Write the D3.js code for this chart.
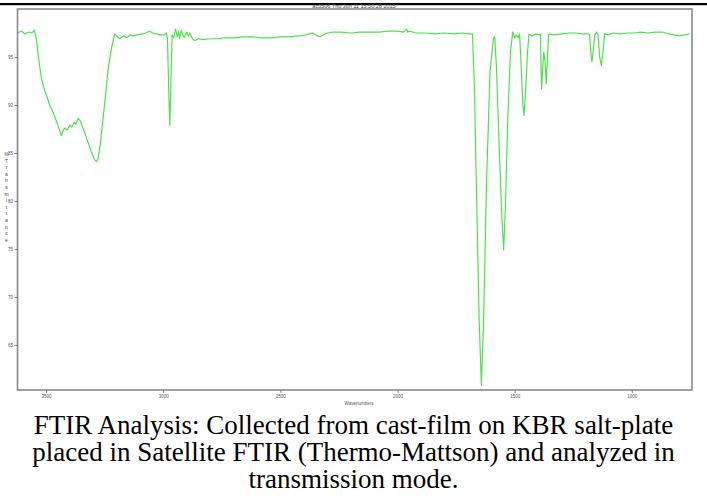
<!DOCTYPE html>
<html>
<head>
<meta charset="utf-8">
<script src="https://cdn.jsdelivr.net/npm/d3@7"></script>
<style>
    body { margin: 0; background: #fff; }
    svg { display: block; }
</style>
</head>
<body>
<div id="chart"></div>
<script>
// spectrum: wavenumber (cm-1) and % transmittance
var wavenumbers = [3622, 3605, 3590, 3575, 3560, 3550, 3541, 3530, 3520, 3506, 3495, 3485, 3475, 3463, 3450, 3435,
    3428, 3421, 3410, 3399, 3390, 3380, 3372, 3364, 3355, 3344, 3332, 3321, 3308, 3293, 3285, 3278, 3268, 3258,
    3246, 3236, 3222, 3207, 3196, 3186, 3170, 3155, 3140, 3130, 3110, 3090, 3075, 3058, 3045, 3030, 3010, 2994,
    2987, 2982, 2976, 2972, 2968, 2962, 2955, 2947, 2940, 2935, 2930, 2923, 2917, 2910, 2900, 2893, 2887, 2875,
    2866, 2850, 2830, 2800, 2770, 2740, 2700, 2660, 2620, 2580, 2540, 2500, 2460, 2420, 2390, 2362, 2350, 2333,
    2310, 2277, 2240, 2200, 2162, 2120, 2080, 2040, 2000, 1975, 1960, 1957, 1950, 1920, 1880, 1840, 1800, 1760,
    1720, 1690, 1680, 1672, 1662, 1652, 1642, 1632, 1620, 1605, 1590, 1585, 1578, 1565, 1555, 1547, 1540, 1530,
    1518, 1508, 1500, 1493, 1485, 1479, 1472, 1465, 1460, 1452, 1445, 1439, 1425, 1410, 1395, 1390, 1385, 1376,
    1370, 1365, 1358, 1355, 1330, 1300, 1270, 1240, 1210, 1185, 1180, 1175, 1170, 1164, 1158, 1151, 1144, 1137,
    1130, 1123, 1116, 1100, 1080, 1050, 1020, 990, 960, 930, 900, 868, 840, 820, 796, 775, 753];
var transmittance = [97.5, 97.7, 97.4, 97.6, 97.5, 97.8, 96.8, 94.5, 92.8, 91.5, 90.8, 90.0, 89.5, 88.8, 87.9, 86.8,
    87.3, 87.6, 87.4, 87.9, 87.7, 88.2, 88.0, 88.6, 88.4, 87.7, 86.9, 86.1, 85.2, 84.3, 84.1, 84.4, 86.0, 88.4,
    91.0, 93.6, 95.8, 97.4, 97.1, 96.9, 97.2, 97.0, 97.3, 97.2, 97.3, 97.4, 97.5, 97.7, 97.5, 97.4, 97.3, 97.3,
    97.5, 97.0, 91.0, 87.9, 91.5, 97.3, 97.0, 97.9, 97.1, 97.7, 96.9, 97.8, 97.3, 97.0, 97.6, 97.2, 97.5, 96.9,
    96.7, 96.9, 96.8, 96.9, 96.9, 97.0, 97.0, 97.1, 97.1, 97.0, 97.0, 97.1, 97.1, 97.2, 97.3, 97.5, 97.3, 97.1,
    97.4, 97.6, 97.6, 97.5, 97.6, 97.6, 97.6, 97.7, 97.7, 97.6, 97.9, 97.6, 97.7, 97.5, 97.5, 97.4, 97.5, 97.4,
    97.5, 97.4, 97.4, 92.0, 80.0, 68.0, 60.8, 68.0, 82.0, 93.5, 97.0, 97.1, 94.0, 85.0, 78.5, 74.9, 79.0, 88.0,
    95.5, 97.6, 97.0, 97.3, 97.0, 97.4, 94.0, 90.0, 88.9, 92.0, 95.5, 97.4, 97.2, 97.4, 97.3, 97.4, 91.7, 95.5,
    94.5, 92.2, 96.0, 97.4, 97.3, 97.4, 97.5, 97.5, 97.4, 97.4, 97.3, 95.5, 94.5, 95.8, 97.3, 97.6, 97.3, 95.0,
    94.1, 95.5, 97.4, 97.3, 97.5, 97.4, 97.5, 97.5, 97.6, 97.5, 97.6, 97.6, 97.4, 97.3, 97.2, 97.3, 97.4];
var xTicks = [3500, 3000, 2500, 2000, 1500, 1000];
var yTicks = [65, 70, 75, 80, 85, 90, 95];
var yLabel = '%Transmittance';
var title = 'ac0506   Thu Jun 11 15:50:28 2015';
var caption = [
    'FTIR Analysis: Collected from cast-film on KBR salt-plate',
    'placed in Satellite FTIR (Thermo-Mattson) and analyzed in',
    'transmission mode.'
];

var width = 707, height = 502;
var frame = {left: 17.5, right: 692, top: 9, bottom: 390};

var svg = d3.select('#chart').append('svg')
    .attr('width', width)
    .attr('height', height);

// heavy rule across the top of the page
svg.append('rect')
    .attr('x', 0).attr('y', 3)
    .attr('width', width).attr('height', 2.2)
    .attr('fill', '#000');

var x = d3.scaleLinear().domain([3622, 743]).range([frame.left, frame.right]);
var y = d3.scaleLinear().domain([60.3, 100]).range([frame.bottom, frame.top]);

svg.append('text')
    .attr('x', 354).attr('y', 7.8)
    .attr('text-anchor', 'middle')
    .style('font-family', 'Liberation Sans, Arial, sans-serif')
    .style('font-size', '5.5px')
    .attr('fill', '#444')
    .text(title);

svg.append('clipPath').attr('id', 'plotClip')
    .append('rect')
    .attr('x', frame.left).attr('y', frame.top)
    .attr('width', frame.right - frame.left).attr('height', frame.bottom - frame.top);

var points = wavenumbers.map(function (w, i) {
    return [w, transmittance[i]];
});

var line = d3.line()
    .x(function (d) { return x(d[0]); })
    .y(function (d) { return y(d[1]); });

svg.append('path')
    .datum(points)
    .attr('clip-path', 'url(#plotClip)')
    .attr('d', line)
    .attr('fill', 'none')
    .attr('stroke', '#4fe04f')
    .attr('stroke-width', 1.2)
    .attr('stroke-linejoin', 'round');

svg.append('rect')
    .attr('x', frame.left).attr('y', frame.top)
    .attr('width', frame.right - frame.left).attr('height', frame.bottom - frame.top)
    .attr('fill', 'none')
    .attr('stroke', '#8a8a8a')
    .attr('stroke-width', 1.6);

var xAxis = svg.append('g')
    .attr('transform', 'translate(0,' + frame.bottom + ')')
    .call(d3.axisBottom(x).tickValues(xTicks).tickSize(3).tickPadding(1.5).tickFormat(d3.format('d')));
var yAxis = svg.append('g')
    .attr('transform', 'translate(' + frame.left + ',0)')
    .call(d3.axisLeft(y).tickValues(yTicks).tickSize(3).tickPadding(1.5).tickFormat(d3.format('d')));

[xAxis, yAxis].forEach(function (ax) {
    ax.select('.domain').remove();
    ax.selectAll('line').attr('stroke', '#666').attr('stroke-width', 0.8);
    ax.selectAll('text')
        .attr('fill', '#555')
        .style('font-family', 'Liberation Sans, Arial, sans-serif')
        .style('font-size', '4.5px');
});

svg.append('text')
    .attr('x', 359).attr('y', 404.5)
    .attr('text-anchor', 'middle')
    .style('font-family', 'Liberation Sans, Arial, sans-serif')
    .style('font-size', '4.5px')
    .attr('fill', '#555')
    .text('Wavenumbers');

// y label is written as stacked letters
svg.append('g').selectAll('text')
    .data(yLabel.split(''))
    .enter().append('text')
    .attr('x', 6.5)
    .attr('y', function (d, i) { return 156 + i * 6.6; })
    .attr('text-anchor', 'middle')
    .style('font-family', 'Liberation Sans, Arial, sans-serif')
    .style('font-size', '5px')
    .attr('fill', '#444')
    .text(function (d) { return d; });

svg.append('g').selectAll('text')
    .data(caption)
    .enter().append('text')
    .attr('x', width / 2)
    .attr('y', function (d, i) { return 434 + i * 27; })
    .attr('text-anchor', 'middle')
    .style('font-family', 'Liberation Serif, Times New Roman, serif')
    .style('font-size', '27px')
    .attr('fill', '#000')
    .text(function (d) { return d; });
</script>
</body>
</html>
